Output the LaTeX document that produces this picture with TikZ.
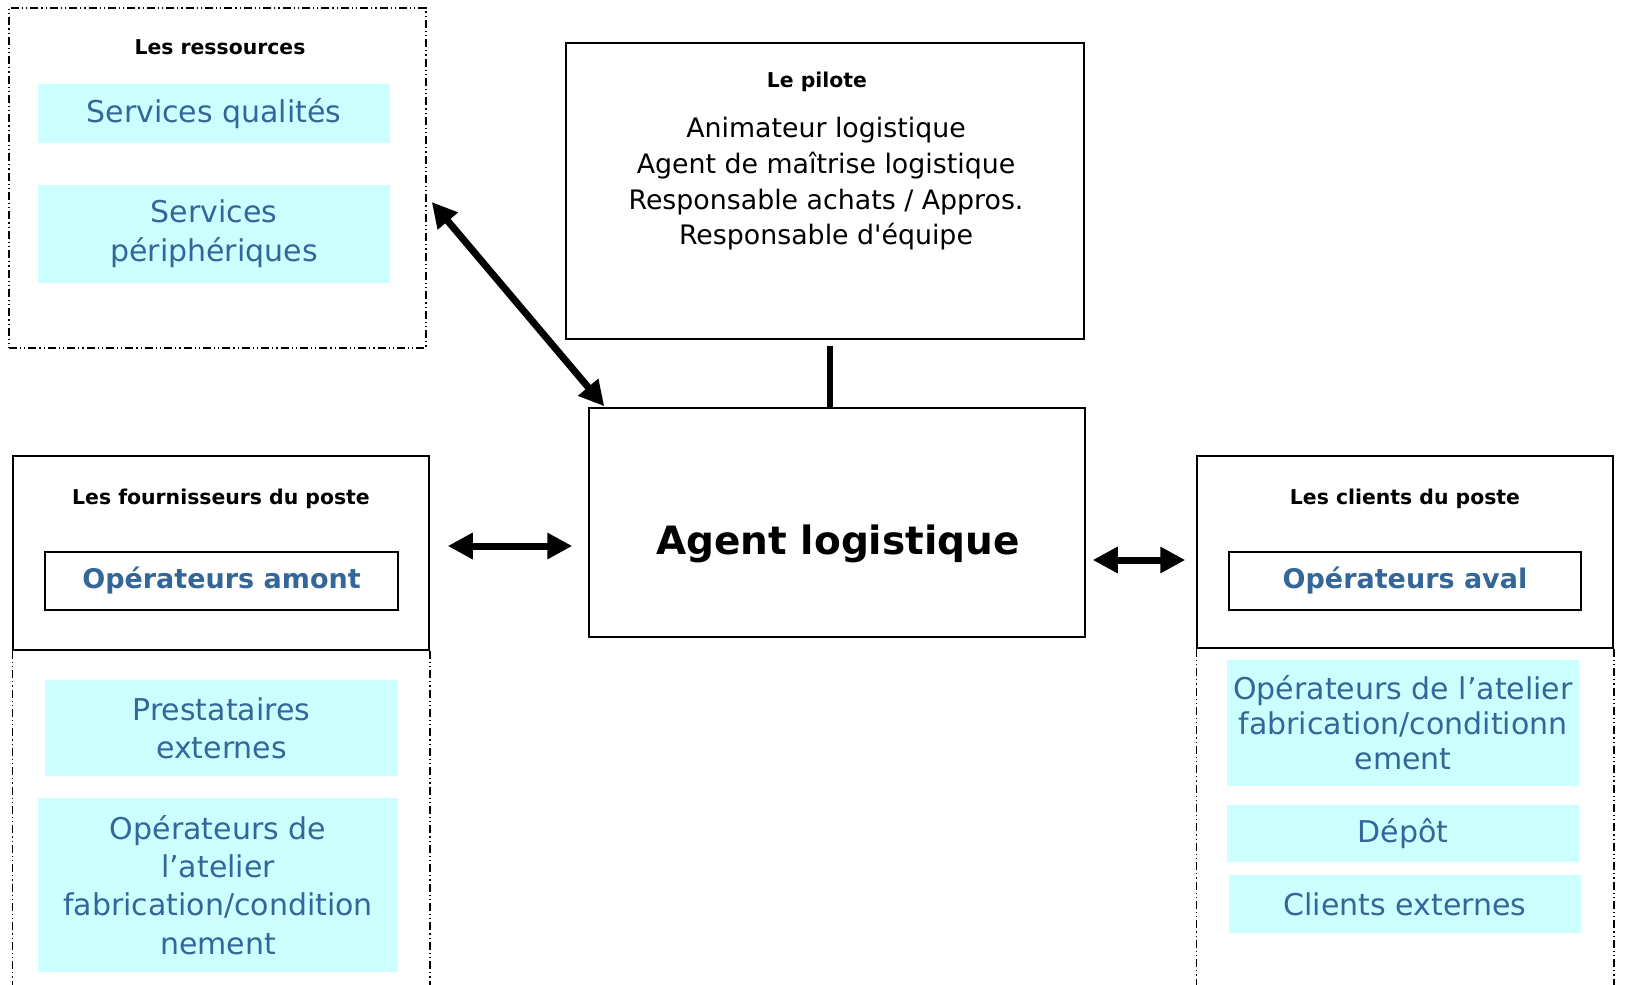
\documentclass[tikz,border=0pt]{standalone}
\usepackage{fontspec}
\setmainfont{DejaVu Sans}
\usetikzlibrary{arrows.meta,calc}
\definecolor{cyanbox}{HTML}{CCFFFF}
\definecolor{bluetxt}{HTML}{336699}
\tikzset{
  rect/.style args={#1/#2/#3/#4}{minimum width={(#3-#1)*0.5pt}, minimum height={(#4-#2)*0.5pt},
    at={({(#1+#3)/2},{(#2+#4)/2})}, anchor=center},
  dd/.style={line width=0.75pt, dash pattern=on 4pt off 1.5pt on 0.6pt off 1.5pt on 0.6pt off 1.5pt},
  frame/.style={draw, line width=0.75pt, inner sep=0pt},
  ddframe/.style={draw, dd, inner sep=0pt},
  cbox/.style={fill=cyanbox, inner sep=0pt, text=bluetxt, align=center, font=\fontsize{15}{19}\selectfont},
  opbox/.style={draw, line width=1pt, inner sep=0pt, text=bluetxt, font=\bfseries\fontsize{13.5}{16}\selectfont},
  ttl/.style={inner sep=0pt, font=\bfseries\fontsize{10.2}{12}\selectfont},
  dbl/.style={line width=3.5pt, {Triangle[length=12.5pt,width=12.5pt]}-{Triangle[length=12.5pt,width=12.5pt]}},
}
\begin{document}
\begin{tikzpicture}[x=0.5pt, y=-0.5pt]
\useasboundingbox (0,0) rectangle (1649,985);

% Les ressources
\node[ddframe, rect=9/8/426/348] (res) {};
\node[ttl] (restitle) at (220,47.5) {Les ressources};
\node[cbox, rect=38/84/390/143] (sq) {Services qualités};
\node[cbox, rect=38/185/390/283, font=\fontsize{15}{19.5}\selectfont] (sp) {Services\\périphériques};

% Le pilote
\node[frame, rect=566/43/1084/339] (pilote) {};
\node[ttl] (pilotetitle) at (817,82) {Le pilote};
\node[inner sep=0pt, align=center, font=\fontsize{13.4}{17.8}\selectfont] (pilotelist) at (826,184)
  {Animateur logistique\\Agent de maîtrise logistique\\Responsable achats / Appros.\\Responsable d\textquotesingle équipe};

% Agent logistique
\node[frame, rect=589/408/1085/637] (agent) {};
\node[inner sep=0pt, font=\bfseries\fontsize{19.5}{24}\selectfont] (agentlbl) at (838,544) {Agent logistique};

% Fournisseurs
\node[frame, rect=13/456/429/650] (four) {};
\draw[dd] (four.south west) -- ++(0,335);
\draw[dd] (four.south east) -- ++(0,335);
\node[ttl] (fourtitle) at (221,499) {Les fournisseurs du poste};
\node[opbox, rect=45/552/398/610] (amont) {Opérateurs amont};
\node[cbox, rect=45/680/398/776] (prest) {Prestataires\\externes};
\node[cbox, rect=38/798/398/972, font=\fontsize{15}{19.1}\selectfont] (opatl) {Opérateurs de\\l’atelier\\fabrication/condition\\nement};

% Clients
\node[frame, rect=1197/456/1613/648] (cli) {};
\draw[dd] (cli.south west) -- ++(0,337);
\draw[dd] (cli.south east) -- ++(0,337);
\node[ttl] (clititle) at (1405,499) {Les clients du poste};
\node[opbox, rect=1229/552/1581/610] (aval) {Opérateurs aval};
\node[cbox, rect=1227/660/1579/786, font=\fontsize{15}{17.4}\selectfont] (opatr) {Opérateurs de l’atelier\\fabrication/conditionn\\ement};
\node[cbox, rect=1227/805/1579/862] (depot) {Dépôt};
\node[cbox, rect=1229/875/1581/933] (cliext) {Clients externes};

% Connectors
\draw[dbl] ($(res.east)+(5,24)$) -- ($(agent.north west)+(16,-1)$);
\draw[line width=3pt] ($(pilote.south)+(5,6)$) -- ($(agent.north)+(-7,0)$);
\draw[dbl] ($(four.east)+(18,-7)$) -- ($(four.east -| agent.west)+(-16,-7)$);
\draw[dbl] ($(agent.east |- cli.west)+(7,8)$) -- ($(cli.west)+(-11,8)$);
\end{tikzpicture}
\end{document}
